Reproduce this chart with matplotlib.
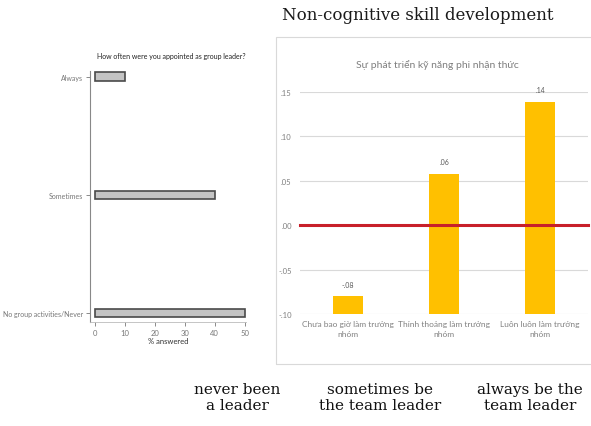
import matplotlib
matplotlib.use("Agg")
import matplotlib.pyplot as plt
from matplotlib.patches import Rectangle

# ---- data ----
left_categories = ["No group activities/Never", "Sometimes", "Always"]
left_values = [50, 40, 10]
left_xticks = [0, 10, 20, 30, 40, 50]

right_categories = ["Chưa bao giờ làm trưởng\nnhóm", "Thỉnh thoảng làm trưởng\nnhóm", "Luôn luôn làm trưởng\nnhóm"]
right_values = [-0.08, 0.058, 0.139]
right_value_labels = ["-.08", ".06", ".14"]
right_yticks = [-0.10, -0.05, 0.00, 0.05, 0.10, 0.15]
right_ytick_labels = ["-.10", "-.05", ".00", ".05", ".10", ".15"]
baseline_value = 0.0
axis_floor = -0.10

bottom_labels = ["never been\na leader", "sometimes be\nthe team leader", "always be the\nteam leader"]
main_title = "Non-cognitive skill development"
left_title = "How often were you appointed as group leader?"
right_title = "Sự phát triển kỹ năng phi nhận thức"

W, H = 591, 427
fig = plt.figure(figsize=(W / 100, H / 100), dpi=100)
fig.patch.set_facecolor("white")

def fx(px):
    return px / W

def fy(py):
    return 1 - py / H

# ---- left panel ----
axL = fig.add_axes([fx(90), fy(323), fx(246) - fx(90), fy(72) - fy(323)])
ypos = [0, 1, 2]
axL.barh(ypos, left_values, height=0.075, color="#c4c4c4", edgecolor="#4a4a4a", linewidth=1.2)
axL.set_xlim(-1.67, 50.5)
axL.set_ylim(-0.076, 2.05)
axL.set_yticks(ypos)
axL.set_yticklabels(left_categories, fontsize=5, color="#333333", family="Lato")
axL.set_xticks(left_xticks)
axL.set_xticklabels([str(v) for v in left_xticks], fontsize=5.5, color="#444444", family="Lato")
axL.set_xlabel("% answered", fontsize=5.5, color="#333333", family="Lato", labelpad=1)
axL.tick_params(axis="both", length=3, width=0.6, colors="#777777", pad=2)
for s in ["top", "right"]:
    axL.spines[s].set_visible(False)
axL.spines["left"].set_color("#888888")
axL.spines["left"].set_linewidth(0.8)
axL.spines["bottom"].set_color("#bbbbbb")
axL.spines["bottom"].set_linewidth(0.6)
fig.text(fx(171), fy(57), left_title, fontsize=5, color="#222222", family="Lato",
         ha="center", va="center")

# ---- right panel frame ----
fig.patches.append(Rectangle((fx(276), fy(365)), fx(600) - fx(276), fy(38) - fy(365),
                             transform=fig.transFigure, fill=False,
                             edgecolor="#d9d9d9", linewidth=0.8))

# ---- right panel ----
axR = fig.add_axes([fx(300), fy(315), fx(588) - fx(300), fy(93) - fy(315)])
xr = range(len(right_values))
heights = [v - axis_floor for v in right_values]
axR.bar(xr, heights, bottom=axis_floor, width=0.31, color="#FFC000", zorder=2)
for i, (v, lab) in enumerate(zip(right_values, right_value_labels)):
    axR.annotate(lab, (i, v), xytext=(0, 6), textcoords="offset points",
                 ha="center", va="bottom", fontsize=5, color="#595959",
                 family="Lato", annotation_clip=False)
axR.axhline(baseline_value, color="#c8202a", linewidth=2.2, zorder=3, clip_on=False)
axR.set_xlim(-0.5, 2.5)
axR.set_ylim(axis_floor, 0.15)
axR.set_yticks(right_yticks)
axR.set_yticklabels(right_ytick_labels, fontsize=5.5, color="#7f7f7f", family="Lato")
axR.set_xticks(list(xr))
axR.set_xticklabels(right_categories, fontsize=6, color="#808080", family="Lato",
                    linespacing=1.5)
axR.tick_params(axis="y", length=0, pad=6)
axR.tick_params(axis="x", length=0, pad=4)
axR.grid(axis="y", color="#d9d9d9", linewidth=0.8, zorder=0)
axR.set_axisbelow(True)
for s in axR.spines.values():
    s.set_visible(False)
fig.text(fx(437), fy(65), right_title, fontsize=7.5, color="#7f7f7f", family="Lato",
         ha="center", va="center")

# ---- overall title & bottom labels ----
fig.text(fx(418), fy(16), main_title, fontsize=12, family="DejaVu Serif",
         color="#1a1a1a", ha="center", va="center")
for xc, lab in zip([237, 380, 530], bottom_labels):
    fig.text(fx(xc), fy(398), lab, fontsize=11, family="DejaVu Serif",
             color="#111111", ha="center", va="center", linespacing=1.15)

fig.savefig("out.png", dpi=100)
